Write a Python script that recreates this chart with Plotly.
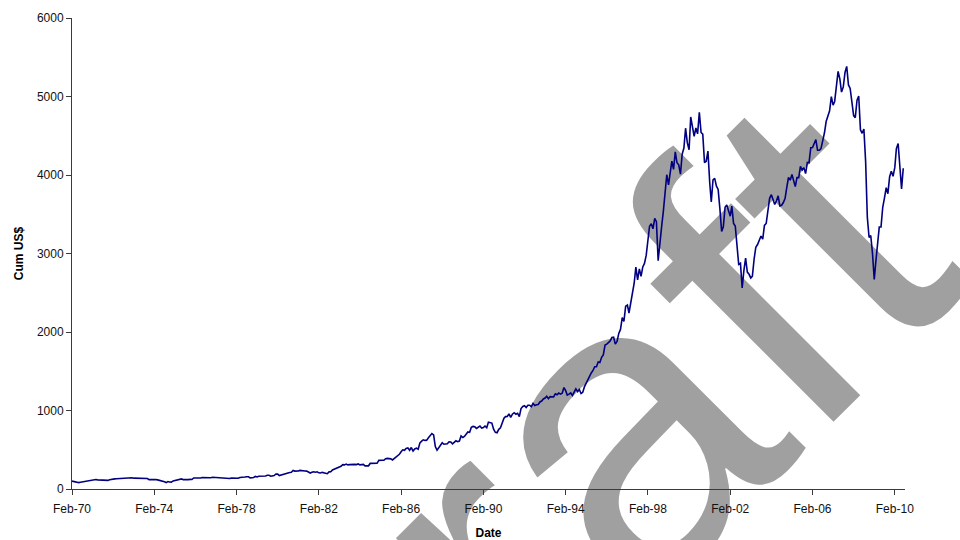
import pandas as pd
import plotly.graph_objects as go

# Cumulative value (US$) of 100 invested in Feb 1970, month-end readings
vals_1970s = [
    100, 100, 91, 86, 81, 87, 91, 94, 93, 98, 103,
    112, 113, 117, 121, 116, 115, 112, 116, 115, 110, 110, 119,
    125, 129, 129, 130, 132, 129, 130, 134, 133, 135, 141, 142,
    144, 138, 138, 133, 130, 129, 134, 129, 134, 134, 119, 121,
    124, 124, 121, 116, 112, 111, 102, 93, 82, 95, 90, 88,
    103, 109, 112, 117, 122, 128, 119, 117, 112, 119, 122, 121,
    141, 139, 144, 142, 140, 146, 145, 144, 147, 144, 143, 150,
    148, 145, 143, 143, 140, 146, 144, 141, 140, 134, 138, 138,
    136, 132, 136, 147, 148, 145, 153, 157, 156, 142, 144, 146,
    160, 154, 162, 163, 158, 164, 166, 175, 175, 163, 170, 172,
]
vals_1980s = [
    191, 190, 171, 178, 186, 191, 204, 205, 210, 214, 236, 228,
    226, 229, 237, 231, 231, 229, 228, 214, 203, 212, 220, 214,
    219, 206, 204, 212, 204, 200, 195, 218, 219, 243, 252, 256,
    274, 280, 289, 310, 307, 317, 307, 310, 314, 309, 314, 311,
    319, 307, 311, 313, 294, 299, 295, 326, 325, 325, 320, 327,
    365, 369, 367, 366, 386, 390, 388, 384, 370, 386, 411, 430,
    442, 474, 499, 492, 517, 524, 493, 528, 483, 510, 521, 506,
    588, 610, 626, 619, 622, 652, 684, 707, 690, 540, 494, 530,
    566, 589, 570, 575, 577, 602, 599, 576, 598, 614, 602, 611,
    675, 655, 669, 702, 727, 721, 785, 797, 792, 772, 785, 802,
]
vals_1990s = [
    776, 783, 802, 780, 852, 844, 840, 761, 722, 717, 760, 779,
    845, 902, 922, 923, 958, 912, 953, 972, 953, 965, 922, 1025,
    1051, 1061, 1037, 1066, 1067, 1049, 1090, 1064, 1074, 1076, 1109, 1120,
    1147, 1159, 1181, 1151, 1177, 1178, 1172, 1212, 1200, 1223, 1208, 1220,
    1292, 1253, 1196, 1209, 1224, 1192, 1229, 1275, 1241, 1267, 1217, 1232,
    1304, 1351, 1387, 1426, 1478, 1510, 1557, 1557, 1619, 1611, 1677, 1707,
    1834, 1846, 1861, 1886, 1929, 1933, 1845, 1880, 1982, 2033, 2182, 2136,
    2328, 2342, 2242, 2373, 2512, 2621, 2826, 2663, 2805, 2708, 2829, 2873,
    2979, 3189, 3348, 3379, 3315, 3446, 3406, 2909, 3091, 3339, 3536, 3736,
    4003, 3873, 4024, 4176, 4072, 4294, 4156, 4130, 4012, 4263, 4344, 4596,
]
vals_2000s = [
    4409, 4321, 4739, 4593, 4492, 4600, 4524, 4799, 4542, 4520, 4158, 4175,
    4304, 3907, 3656, 3937, 3957, 3858, 3817, 3572, 3280, 3339, 3590, 3618,
    3549, 3475, 3603, 3382, 3351, 3108, 2862, 2876, 2560, 2781, 2940, 2763,
    2735, 2688, 2711, 2930, 3080, 3114, 3165, 3222, 3183, 3358, 3382, 3554,
    3703, 3749, 3687, 3625, 3669, 3735, 3607, 3615, 3649, 3700, 3843, 3968,
    3934, 4008, 3931, 3852, 3968, 3967, 4110, 4064, 4092, 4019, 4161, 4157,
    4348, 4350, 4399, 4452, 4315, 4315, 4337, 4429, 4538, 4681, 4758, 4818,
    4998, 4889, 4937, 5151, 5319, 5224, 5057, 5122, 5306, 5384, 5147, 5103,
    4928, 4757, 4729, 4953, 5006, 4576, 4531, 4586, 4170, 3463, 3204, 3229,
    2999, 2669, 2897, 3169, 3337, 3338, 3586, 3706, 3838, 3762, 3978, 4049,
]
vals_2010 = [3983, 4097, 4337, 4401, 4041, 3823, 4086]

cum_usd = vals_1970s + vals_1980s + vals_1990s + vals_2000s + vals_2010
months = pd.date_range("1970-02-01", periods=len(cum_usd), freq="MS")

tick_labels = ["Feb-70", "Feb-74", "Feb-78", "Feb-82", "Feb-86", "Feb-90",
               "Feb-94", "Feb-98", "Feb-02", "Feb-06", "Feb-10"]
tick_dates = pd.date_range("1970-02-01", periods=len(tick_labels), freq="48MS")
y_ticks = [0, 1000, 2000, 3000, 4000, 5000, 6000]

FONT = "Arial, 'Liberation Sans', sans-serif"
AXIS_COLOR = "#3a3a3a"

fig = go.Figure()
fig.add_trace(go.Scatter(
    x=months, y=cum_usd, mode="lines",
    line=dict(color="#000080", width=1.6),
    hoverinfo="skip",
))

# Watermark, kept beneath the data line and the axes
cx, cy = 0.528, 0.030
fig.add_shape(
    type="rect", xref="paper", yref="paper",
    x0=cx - 0.001, x1=cx + 0.001, y0=cy - 0.001, y1=cy + 0.001,
    line=dict(width=0), fillcolor="rgba(0,0,0,0)", layer="below",
    label=dict(text="Draft", textangle=-45, textposition="middle center",
               font=dict(family=FONT, size=430, color="#a0a0a0")),
)

fig.update_xaxes(
    type="date", range=["1970-02-01", "2010-08-01"],
    tickvals=tick_dates, ticktext=tick_labels,
    showline=True, linecolor=AXIS_COLOR, linewidth=1,
    ticks="outside", ticklen=5, tickcolor=AXIS_COLOR,
    ticklabelstandoff=4,
    showgrid=False, zeroline=False, automargin=False,
    tickfont=dict(family=FONT, size=12, color="#111"),
    title=dict(text="Date", standoff=16,
               font=dict(family=FONT, size=12, color="#000", weight="bold")),
)
fig.update_yaxes(
    range=[0, 6000], tickvals=y_ticks,
    showline=True, linecolor=AXIS_COLOR, linewidth=1,
    ticks="outside", ticklen=5, tickcolor=AXIS_COLOR,
    showgrid=False, zeroline=False, automargin=False,
    tickfont=dict(family=FONT, size=12, color="#111"),
    title=dict(text="Cum US$", standoff=10,
               font=dict(family=FONT, size=12, color="#000", weight="bold")),
)
fig.update_layout(
    width=960, height=540,
    margin=dict(l=72, r=55, t=18, b=51),
    paper_bgcolor="white", plot_bgcolor="rgba(0,0,0,0)",
    showlegend=False,
)

fig.write_html("out.html", config={"displayModeBar": False})
